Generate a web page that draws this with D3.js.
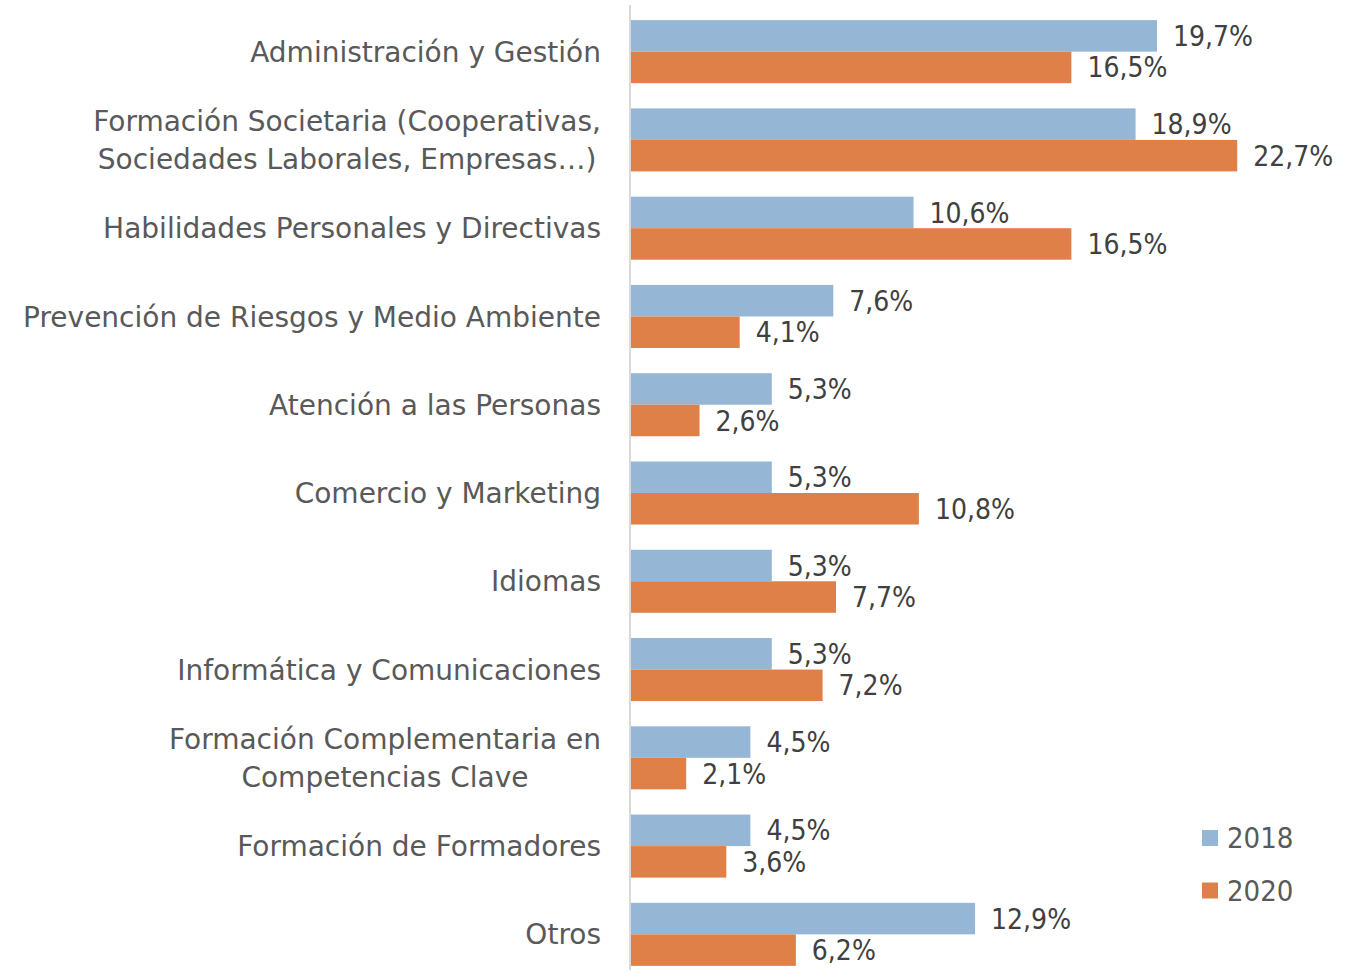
<!DOCTYPE html>
<html>
<head>
<meta charset="utf-8">
<script src="https://cdn.jsdelivr.net/npm/d3@7"></script>
<style>
  body { margin: 0; background: #fff; }
  text { font-family: "DejaVu Sans Condensed", "DejaVu Sans", sans-serif; }
  text.cat { font-family: "DejaVu Sans", sans-serif; }
</style>
</head>
<body>
<script>
// Data:
const categories = [
  ["Administración y Gestión"],
  ["Formación Societaria (Cooperativas,", "Sociedades Laborales, Empresas…)"],
  ["Habilidades Personales y Directivas"],
  ["Prevención de Riesgos y Medio Ambiente"],
  ["Atención a las Personas"],
  ["Comercio y Marketing"],
  ["Idiomas"],
  ["Informática y Comunicaciones"],
  ["Formación Complementaria en", "Competencias Clave"],
  ["Formación de Formadores"],
  ["Otros"]
];
const series = ["2018", "2020"];
const values2018 = [19.7, 18.9, 10.6, 7.6, 5.3, 5.3, 5.3, 5.3, 4.5, 4.5, 12.9];
const values2020 = [16.5, 22.7, 16.5, 4.1, 2.6, 10.8, 7.7, 7.2, 2.1, 3.6, 6.2];
const colors = ["#95b6d4", "#de8048"];

// Canvas:
const width = 1356, height = 973;
const svg = d3.select("body").append("svg")
  .attr("width", width).attr("height", height);

const axisX = 630;
const x = d3.scaleLinear().domain([0, 25]).range([axisX, axisX + 25 * 26.75]);
const keys = categories.map((c, i) => i);
const y = d3.scaleBand().domain(keys).range([7.5, 978.5])
  .paddingInner(0.286).paddingOuter(0.143);
const ySub = d3.scaleBand().domain(series).range([0, y.bandwidth()]);

const rows = keys.map(i => ({ i, vals: [values2018[i], values2020[i]] }));
const fmt = v => d3.format(".1f")(v).replace(".", ",") + "%";

// Bars:
const g = svg.selectAll(".grp").data(rows).enter().append("g")
  .attr("class", "grp")
  .attr("transform", d => `translate(0,${y(d.i)})`);

g.selectAll("rect").data(d => d.vals.map((v, k) => ({ v, k }))).enter()
  .append("rect")
  .attr("x", axisX)
  .attr("y", d => ySub(series[d.k]))
  .attr("width", d => x(d.v) - axisX)
  .attr("height", ySub.bandwidth())
  .attr("fill", d => colors[d.k]);

g.selectAll("text.val").data(d => d.vals.map((v, k) => ({ v, k }))).enter()
  .append("text")
  .attr("class", "val")
  .attr("x", d => x(d.v) + 16)
  .attr("y", d => ySub(series[d.k]) + ySub.bandwidth() / 2)
  .attr("dy", "0.36em")
  .attr("font-size", 28)
  .attr("fill", "#404040")
  .text(d => fmt(d.v));

// Axis line:
svg.append("line")
  .attr("x1", axisX).attr("x2", axisX)
  .attr("y1", 5).attr("y2", 970)
  .attr("stroke", "#d9d9d9").attr("stroke-width", 2);

// Category labels:
const labelRight = 601;
categories.forEach((lines, i) => {
  const cy = y(i) + y.bandwidth() / 2;
  const lab = svg.append("text")
    .attr("class", "cat")
    .attr("font-size", 28)
    .attr("fill", "#595959");
  lines.forEach((t, j) => {
    lab.append("tspan")
      .attr("y", cy + (j - (lines.length - 1) / 2) * 38)
      .attr("dy", "0.36em")
      .text(t);
  });
  // centre lines relative to each other, right edge of block at labelRight
  const spans = lab.selectAll("tspan").nodes();
  const maxW = d3.max(spans, n => n.getComputedTextLength());
  const mid = labelRight - maxW / 2;
  lab.attr("text-anchor", "middle");
  spans.forEach(n => d3.select(n).attr("x", lines.length > 1 ? mid : labelRight - n.getComputedTextLength() / 2));
});

// Legend:
const legend = svg.append("g").attr("transform", "translate(1202,830)");
series.forEach((s, k) => {
  legend.append("rect")
    .attr("x", 0).attr("y", k * 52.5)
    .attr("width", 16).attr("height", 16)
    .attr("fill", colors[k]);
  legend.append("text")
    .attr("x", 25).attr("y", k * 52.5 + 8)
    .attr("dy", "0.36em")
    .attr("font-size", 29)
    .attr("fill", "#595959")
    .text(s);
});
</script>
</body>
</html>
